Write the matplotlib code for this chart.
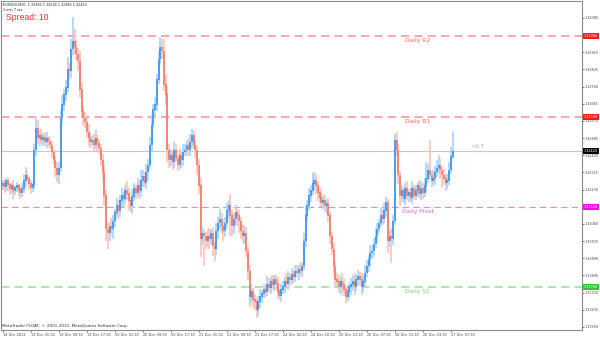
import matplotlib
matplotlib.use("Agg")
import matplotlib.pyplot as plt
import matplotlib.transforms as mtransforms
import numpy as np

# EURUSD M30 closes (open of a bar = previous close)
first_open = 1.32250
closes = [
    1.32260, 1.32245, 1.32275, 1.32255, 1.32235, 1.32250, 1.32225, 1.32240,
    1.32250, 1.32230, 1.32215, 1.32235, 1.32275, 1.32300, 1.32285, 1.32260,
    1.32240, 1.32255, 1.32425, 1.32535, 1.32485, 1.32500, 1.32475, 1.32490,
    1.32465, 1.32485, 1.32470, 1.32450, 1.32415, 1.32375, 1.32335, 1.32300,
    1.32335, 1.32585, 1.32650, 1.32700, 1.32735, 1.32825, 1.32815, 1.32925,
    1.32965, 1.32935, 1.32900, 1.32865, 1.32725, 1.32615, 1.32585, 1.32565,
    1.32515, 1.32485, 1.32465, 1.32475, 1.32450, 1.32485, 1.32460, 1.32435,
    1.32375, 1.32315, 1.32200, 1.32035, 1.32015, 1.32050, 1.32035, 1.32075,
    1.32115, 1.32150, 1.32125, 1.32175, 1.32200, 1.32185, 1.32225, 1.32210,
    1.32175, 1.32150, 1.32195, 1.32235, 1.32215, 1.32250, 1.32225, 1.32275,
    1.32295, 1.32265, 1.32315, 1.32350, 1.32450, 1.32550, 1.32625, 1.32650,
    1.32775, 1.32875, 1.32935, 1.32915, 1.32750, 1.32700, 1.32425, 1.32375,
    1.32400, 1.32365, 1.32425, 1.32385, 1.32350, 1.32400, 1.32375, 1.32415,
    1.32425, 1.32450, 1.32425, 1.32465, 1.32500, 1.32450, 1.32425, 1.32350,
    1.32250, 1.31985, 1.32015, 1.32000, 1.31975, 1.32000, 1.31985, 1.32015,
    1.31950, 1.31935, 1.32025, 1.32065, 1.32085, 1.32050, 1.32025, 1.32065,
    1.32125, 1.32150, 1.32100, 1.32050, 1.32085, 1.32115, 1.32100, 1.32075,
    1.32025, 1.32000, 1.32015, 1.31925, 1.31825, 1.31700, 1.31725, 1.31685,
    1.31675, 1.31635, 1.31675, 1.31700, 1.31715, 1.31735, 1.31725, 1.31760,
    1.31745, 1.31775, 1.31760, 1.31785, 1.31765, 1.31725, 1.31705, 1.31735,
    1.31750, 1.31775, 1.31765, 1.31795, 1.31785, 1.31810, 1.31795, 1.31825,
    1.31815, 1.31835, 1.31825, 1.31850, 1.31975, 1.32100, 1.32150, 1.32200,
    1.32225, 1.32260, 1.32275, 1.32250, 1.32215, 1.32190, 1.32165, 1.32175,
    1.32150, 1.32160, 1.32100, 1.32000, 1.31935, 1.31850, 1.31785, 1.31775,
    1.31750, 1.31775, 1.31760, 1.31735, 1.31700, 1.31725, 1.31750, 1.31760,
    1.31775, 1.31750, 1.31785, 1.31800, 1.31785, 1.31750, 1.31775, 1.31815,
    1.31850, 1.31885, 1.31915, 1.31925, 1.31960, 1.32000, 1.32035, 1.32065,
    1.32100, 1.32085, 1.32125, 1.32165, 1.31975, 1.32000, 1.31985, 1.32075,
    1.32475, 1.32425, 1.32300, 1.32200, 1.32225, 1.32185, 1.32235, 1.32200,
    1.32215, 1.32190, 1.32235, 1.32200, 1.32225, 1.32250, 1.32210, 1.32235,
    1.32215, 1.32250, 1.32285, 1.32325, 1.32300, 1.32275, 1.32285, 1.32315,
    1.32335, 1.32350, 1.32325, 1.32300, 1.32285, 1.32265, 1.32275, 1.32325,
    1.32393, 1.32420,
]
# wick lengths in pips above / below the body
up_pips = [
    2, 3, 1, 2, 1, 2, 3, 1, 2, 1, 2, 3, 3, 4, 2, 1, 2, 1, 3, 5, 4, 2, 3, 2,
    2, 3, 1, 2, 2, 1, 2, 3, 3, 4, 5, 3, 4, 6, 3, 5, 12, 6, 4, 3, 5, 4, 3, 3,
    2, 4, 3, 2, 3, 4, 2, 2, 2, 3, 4, 3, 3, 2, 4, 3, 2, 4, 3, 3, 4, 2, 3, 5,
    3, 2, 4, 3, 2, 4, 3, 5, 3, 2, 4, 3, 4, 5, 3, 4, 3, 4, 5, 4, 6, 5, 4, 3,
    3, 2, 4, 3, 2, 3, 2, 4, 3, 2, 3, 4, 3, 2, 3, 2, 3, 4, 3, 2, 2, 3, 4, 2,
    3, 2, 4, 3, 5, 3, 2, 3, 4, 3, 6, 3, 3, 4, 2, 3, 2, 3, 4, 3, 2, 3, 4, 2,
    3, 2, 3, 4, 2, 3, 2, 4, 3, 2, 3, 2, 2, 3, 2, 3, 3, 2, 4, 3, 2, 3, 2, 3,
    3, 2, 3, 2, 4, 5, 3, 4, 3, 5, 4, 3, 2, 3, 4, 3, 3, 2, 3, 2, 2, 3, 2, 3,
    3, 2, 4, 3, 2, 3, 2, 3, 3, 4, 2, 3, 2, 3, 3, 4, 3, 2, 4, 3, 3, 4, 3, 2,
    4, 3, 4, 3, 2, 3, 4, 3, 3, 4, 3, 2, 3, 2, 3, 4, 2, 3, 4, 2, 3, 2, 3, 4,
    3, 4, 8, 3, 15, 2, 4, 3, 4, 5, 3, 2, 3, 2, 3, 4, 5, 10,
]
dn_pips = [
    2, 3, 2, 3, 3, 2, 4, 2, 2, 3, 3, 2, 2, 3, 2, 3, 3, 2, 2, 3, 3, 4, 2, 3,
    2, 3, 3, 2, 3, 2, 4, 3, 4, 2, 3, 3, 3, 2, 4, 3, 3, 4, 3, 5, 4, 3, 4, 3,
    3, 4, 3, 2, 3, 2, 4, 3, 3, 4, 5, 6, 8, 4, 3, 5, 3, 2, 4, 3, 3, 4, 2, 3,
    5, 3, 4, 2, 3, 2, 4, 3, 3, 2, 3, 4, 2, 3, 2, 3, 3, 2, 3, 4, 3, 5, 6, 4,
    3, 4, 3, 2, 3, 2, 4, 3, 2, 3, 2, 3, 3, 2, 4, 5, 4, 9, 3, 15, 4, 3, 5, 3,
    5, 6, 3, 4, 3, 4, 5, 3, 3, 4, 10, 5, 4, 3, 5, 6, 4, 3, 4, 3, 4, 5, 3, 4,
    4, 4, 3, 3, 3, 2, 3, 2, 2, 3, 2, 3, 3, 3, 2, 3, 2, 3, 2, 3, 3, 2, 3, 2,
    2, 3, 2, 3, 2, 3, 3, 2, 3, 2, 3, 4, 4, 3, 2, 3, 3, 4, 3, 4, 3, 4, 3, 2,
    3, 4, 4, 3, 3, 2, 3, 4, 3, 4, 2, 3, 3, 4, 3, 2, 2, 3, 4, 3, 3, 2, 3, 2,
    2, 3, 2, 3, 6, 3, 12, 3, 2, 3, 4, 5, 3, 2, 3, 2, 3, 2, 3, 2, 2, 3, 2, 3,
    3, 2, 3, 2, 2, 3, 2, 3, 2, 3, 4, 6, 3, 4, 3, 2, 2, 1,
]

# daily pivot levels
level_names = ["Daily R2", "Daily R1", "Daily Pivot", "Daily S1"]
level_values = [1.32990, 1.32590, 1.32144, 1.31748]
level_tags = ["1.32990", "1.32590", "1.32144", "1.31748"]
level_line_colors = ["#ff9a9a", "#ff9a9a", "#f080f0", "#a0e0a0"]
level_text_colors = ["#ff5a5a", "#ff5a5a", "#f050f0", "#70d070"]
level_tag_colors = ["#ff1a1a", "#ff1a1a", "#ff00ff", "#30c830"]
bid = 1.32420

price_ticks = [1.33080, 1.32995, 1.32910, 1.32825, 1.32740, 1.32655, 1.32570,
               1.32485, 1.32400, 1.32315, 1.32230, 1.32145, 1.32060, 1.31975,
               1.31890, 1.31805, 1.31720, 1.31635, 1.31550]
time_ticks = [0, 16, 32, 48, 64, 80, 96, 112, 128, 144, 160, 176, 192, 208,
              224, 240, 256]
time_labels = ["18 Dec 2012", "19 Dec 01:30", "19 Dec 09:30", "19 Dec 17:30",
               "20 Dec 01:30", "20 Dec 09:30", "20 Dec 17:30", "21 Dec 01:30",
               "21 Dec 09:30", "21 Dec 17:30", "24 Dec 02:30", "24 Dec 10:30",
               "25 Dec 23:30", "26 Dec 07:30", "26 Dec 15:30", "26 Dec 23:30",
               "27 Dec 07:30"]

c = np.array(closes)
o = np.r_[first_open, c[:-1]]
top = np.maximum(o, c)
bot = np.minimum(o, c)
hi = top + np.array(up_pips) * 1e-4
lo = bot - np.array(dn_pips) * 1e-4
x = np.arange(len(c))
bull = c >= o

W, H = 600, 340
fig = plt.figure(figsize=(6, 3.4), dpi=100)
ax = fig.add_axes([1 / W, 10 / H, 581 / W, 329 / H])
ax.set_xlim(-1.14, 330.9)
ax.set_ylim(1.31535, 1.33164)

# pivot lines
for name, val, lc, tc in zip(level_names, level_values, level_line_colors, level_text_colors):
    thin = name == "Daily Pivot"
    ax.axhline(val, color=lc, lw=0.8 if thin else 1.2,
               dashes=(6, 3.5) if thin else (5, 3), zorder=1)
    ax.annotate(name, (237, val), textcoords="offset points", xytext=(0, -1.5),
                ha="center", va="top", fontsize=4.3, color=tc, zorder=4)
ax.axhline(bid, color="#c8c8c8", lw=0.8, zorder=1)

# candles: light shadows, strong bodies
wick_col = np.where(bull, "#a9d3f7", "#f8c3bb")
body_col = np.where(bull, "#2b8cf0", "#f5705c")
ax.vlines(x, lo, hi, colors=wick_col, lw=1.2, zorder=2)
ax.vlines(x, bot, top + 0.00002, colors=body_col, lw=1.1, zorder=3)

ax.text(268, bid + 0.00022, "<1:7", fontsize=3.8, color="#70aef0", va="center")

# axes styling
for s in ax.spines.values():
    s.set_color("#8c8c8c")
    s.set_linewidth(0.8)
ax.yaxis.tick_right()
ax.set_yticks(price_ticks)
ax.set_yticklabels([f"{p:.5f}" for p in price_ticks])
ax.tick_params(axis="y", length=1.2, width=0.5, pad=0.5, labelsize=2.4,
               colors="#404040")
ax.set_xticks(time_ticks)
ax.set_xticklabels(time_labels, ha="left")
ax.tick_params(axis="x", length=1.5, width=0.5, pad=0.8, labelsize=2.5,
               colors="#404040")

# price tags on the right scale
tr = mtransforms.blended_transform_factory(ax.transAxes, ax.transData)
for val, tag, tc in zip(level_values, level_tags, level_tag_colors):
    ax.text(1.003, val, tag, transform=tr, fontsize=2.4, color="white",
            va="center", ha="left", clip_on=False, zorder=6,
            bbox=dict(boxstyle="square,pad=0.3", fc=tc, ec="none"))
ax.text(1.003, bid, "1.32420", transform=tr, fontsize=2.4, color="white",
        va="center", ha="left", clip_on=False, zorder=6,
        bbox=dict(boxstyle="square,pad=0.3", fc="black", ec="none"))

fig.text(3 / W, 1 - 5 / H, "EURUSD,M30  1.32393 1.32518 1.32385 1.32420",
         fontsize=2.4, va="center", color="#202020")
fig.text(3 / W, 1 - 10 / H, "1 min 7 sec", fontsize=2.4, va="center", color="#202020")
fig.text(6 / W, 1 - 18 / H, "Spread: 10", fontsize=6.2, va="center",
         color="#ff2a2a", family="Liberation Sans")
fig.text(2 / W, 1 - 326 / H, "MetaTrader FLOAT, \u00a9 2001-2012, MetaQuotes Software Corp.",
         fontsize=3.0, va="center", color="#303030")

fig.savefig("out.png", dpi=100)
